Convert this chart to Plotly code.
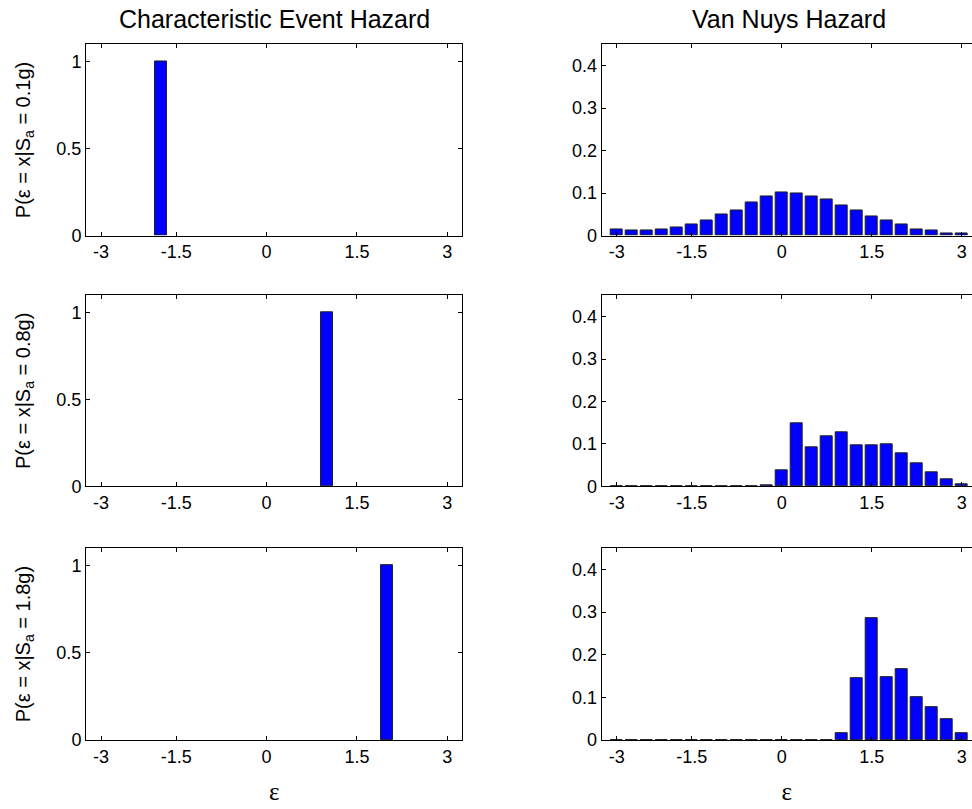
import plotly.graph_objects as go

# ---- data ----
eps_bins = [-2.75, -2.5, -2.25, -2.0, -1.75, -1.5, -1.25, -1.0, -0.75, -0.5, -0.25, 0.0,
            0.25, 0.5, 0.75, 1.0, 1.25, 1.5, 1.75, 2.0, 2.25, 2.5, 2.75, 3.0]

char_eps_01 = [-1.75]
char_p_01 = [1.0]
char_eps_08 = [1.0]
char_p_08 = [1.0]
char_eps_18 = [2.0]
char_p_18 = [1.0]

vn_p_01 = [0.015, 0.011, 0.011, 0.015, 0.018, 0.025, 0.036, 0.049, 0.060, 0.078, 0.091, 0.102,
           0.098, 0.091, 0.084, 0.070, 0.060, 0.046, 0.036, 0.025, 0.015, 0.011, 0.005, 0.005]
vn_p_08 = [0, 0, 0, 0, 0, 0, 0, 0, 0, 0, 0.002, 0.037,
           0.148, 0.093, 0.117, 0.127, 0.097, 0.097, 0.100, 0.079, 0.054, 0.033, 0.016, 0.006]
vn_p_18 = [0, 0, 0, 0, 0, 0, 0, 0, 0, 0, 0, 0,
           0, 0, 0, 0.017, 0.146, 0.287, 0.148, 0.166, 0.100, 0.077, 0.048, 0.017]

tick_pos = [-2.75, -1.5, 0.0, 1.5, 3.0]
tick_text = ["-3", "-1.5", "0", "1.5", "3"]

row_labels = ["P(\u03b5 = x|S<sub>a</sub> = 0.1g)",
              "P(\u03b5 = x|S<sub>a</sub> = 0.8g)",
              "P(\u03b5 = x|S<sub>a</sub> = 1.8g)"]
col_titles = ["Characteristic Event Hazard", "Van Nuys Hazard"]

# ---- layout geometry ----
W, H = 972, 809
rows_px = [(45, 238.5), (299, 492.5), (555, 749.3)]
cols_px = [(86, 462.3), (601.7, 972)]

FONT = "Liberation Sans, Arial, Helvetica, sans-serif"

fig = go.Figure()

left_data = [(char_eps_01, char_p_01), (char_eps_08, char_p_08), (char_eps_18, char_p_18)]
right_data = [vn_p_01, vn_p_08, vn_p_18]

ax = 0
for r in range(3):
    for c in range(2):
        ax += 1
        xa = "x" if ax == 1 else f"x{ax}"
        ya = "y" if ax == 1 else f"y{ax}"
        if c == 0:
            xs, ys = left_data[r]
        else:
            xs, ys = eps_bins, right_data[r]
        fig.add_trace(go.Bar(x=xs, y=ys, width=0.2, xaxis=xa, yaxis=ya,
                             marker=dict(color="#0000ff", line=dict(color="#222222", width=1)),
                             showlegend=False, hoverinfo="x+y"))
        top, bot = rows_px[r]
        lft, rgt = cols_px[c]
        xkey = "xaxis" if ax == 1 else f"xaxis{ax}"
        ykey = "yaxis" if ax == 1 else f"yaxis{ax}"
        xrange = [-3.0, 3.25] if c == 0 else [-3.0, -3.0 + (rgt - lft) / 60.0]
        xdict = dict(
            domain=[lft / W, rgt / W], anchor=ya, range=xrange,
            tickvals=tick_pos, ticktext=tick_text, ticks="inside", ticklen=4,
            tickcolor="black", showline=True, linecolor="black", linewidth=1,
            mirror="ticks", showgrid=False, zeroline=False,
            tickfont=dict(family=FONT, size=18, color="black"),
        )
        if r == 2:
            xdict["title"] = dict(text="\u03b5",
                                  font=dict(family="Liberation Serif, Times New Roman, serif",
                                            size=25, color="black"),
                                  standoff=16)
        fig.layout[xkey] = xdict
        if c == 0:
            yrange = [0, 1.1]
            ytv = [0, 0.5, 1]
            ytt = ["0", "0.5", "1"]
        else:
            yrange = [0, 0.45]
            ytv = [0, 0.1, 0.2, 0.3, 0.4]
            ytt = ["0", "0.1", "0.2", "0.3", "0.4"]
        ydict = dict(
            domain=[1 - bot / H, 1 - top / H], anchor=xa, range=yrange,
            tickvals=ytv, ticktext=ytt, ticks="inside", ticklen=4, tickcolor="black",
            showline=True, linecolor="black", linewidth=1,
            mirror="ticks" if c == 0 else False, showgrid=False, zeroline=False,
            tickfont=dict(family=FONT, size=18, color="black"),
        )
        if c == 0:
            ydict["title"] = dict(text=row_labels[r],
                                  font=dict(family=FONT, size=20, color="black"), standoff=20)
        fig.layout[ykey] = ydict

for c in range(2):
    lft, rgt = cols_px[c]
    cx = (lft + rgt) / 2 if c == 0 else (lft + lft + 375) / 2
    fig.add_annotation(text=col_titles[c], x=cx / W, y=1 - 19 / H, xref="paper", yref="paper",
                       xanchor="center", yanchor="middle", showarrow=False,
                       font=dict(family=FONT, size=25, color="black"))

fig.update_layout(width=W, height=H, margin=dict(l=0, r=0, t=0, b=0),
                  paper_bgcolor="white", plot_bgcolor="white", bargap=0)

fig.write_html("out.html")
